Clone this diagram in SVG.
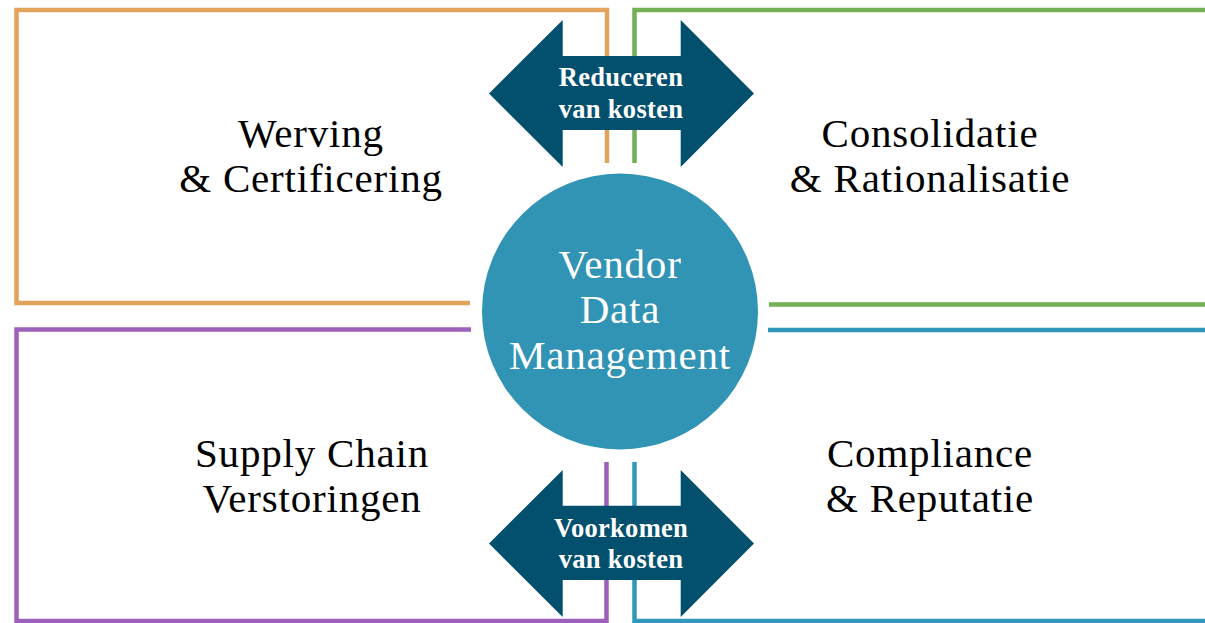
<svg xmlns="http://www.w3.org/2000/svg" width="1205" height="623" viewBox="0 0 1205 623">
<style>
.frame{fill:none;stroke-width:4.5;stroke-linejoin:miter}
.lbl{font-family:"Liberation Serif","Times New Roman",serif;font-size:41px;letter-spacing:0.8px;fill:#000;text-anchor:middle}
.ctr{font-family:"Liberation Serif","Times New Roman",serif;font-size:41px;letter-spacing:0.8px;fill:#fff;text-anchor:middle}
.arr{fill:#03506E}
.atx{font-family:"Liberation Serif","Times New Roman",serif;font-size:26.5px;letter-spacing:0.3px;font-weight:bold;fill:#fff;text-anchor:middle}
</style>
<rect width="1205" height="623" fill="#fff"/>
<g id="connectors">
<path class="frame" stroke="#E2A45A" d="M470 303 H16.5 V10 H607 V163"/>
<path class="frame" stroke="#72AF55" d="M634.5 163 V10 H1212 V304.5 H769"/>
<path class="frame" stroke="#9C62BB" d="M471 329.5 H16.5 V621 H606.5 V462"/>
<path class="frame" stroke="#3098BA" d="M768 330 H1212 V621 H634.5 V462"/>
</g>
<g id="werving">
<text class="lbl" x="311" y="147">Werving</text>
<text class="lbl" x="311" y="192">&amp; Certificering</text>
</g>
<g id="consolidatie">
<text class="lbl" x="930" y="147">Consolidatie</text>
<text class="lbl" x="930" y="192">&amp; Rationalisatie</text>
</g>
<g id="supply">
<text class="lbl" x="312" y="467">Supply Chain</text>
<text class="lbl" x="312" y="512">Verstoringen</text>
</g>
<g id="compliance">
<text class="lbl" x="930" y="467">Compliance</text>
<text class="lbl" x="930" y="512">&amp; Reputatie</text>
</g>
<g id="vdm">
<circle cx="620" cy="311.5" r="138" fill="#3194B4"/>
<text class="ctr" x="620" y="278">Vendor</text>
<text class="ctr" x="620" y="323">Data</text>
<text class="ctr" x="620" y="369">Management</text>
</g>
<g id="reduceren">
<polygon class="arr" points="489,93.5 562.7,20 562.7,56 680.7,56 680.7,20 754,93.5 680.7,167 680.7,130 562.7,130 562.7,167"/>
<text class="atx" x="621" y="86">Reduceren</text>
<text class="atx" x="621" y="118">van kosten</text>
</g>
<g id="voorkomen">
<polygon class="arr" points="489,543.5 562.7,470 562.7,505.7 680.7,505.7 680.7,470 754,543.5 680.7,617 680.7,580 562.7,580 562.7,617"/>
<text class="atx" x="621" y="537">Voorkomen</text>
<text class="atx" x="621" y="568">van kosten</text>
</g>
</svg>
